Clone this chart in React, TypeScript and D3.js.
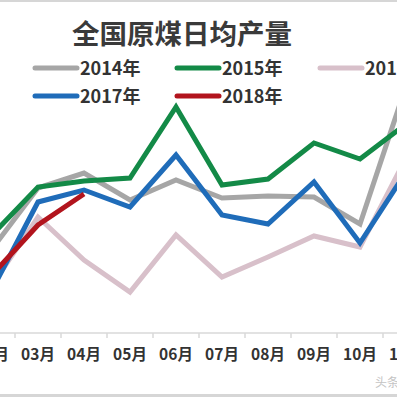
import * as d3 from "d3";

const months = ["01月", "02月", "03月", "04月", "05月", "06月", "07月", "08月", "09月", "10月", "11月", "12月"];

// 日均产量（万吨），从图上估读；02月起
const dataMonths = ["02月", "03月", "04月", "05月", "06月", "07月", "08月", "09月", "10月", "11月"];
const y2014 = [866, 988, 1018, 964, 1004, 968, 972, 970, 916, 1192];
const y2015 = [894, 990, 1002, 1008, 1150, 994, 1006, 1078, 1046, 1116];
const y2016 = [794, 930, 844, 780, 894, 810, 850, 892, 870, 1048];
const y2017 = [784, 960, 984, 950, 1054, 934, 916, 1000, 878, 1020];
const y2018 = [814, 914, 976];

const seriesNames = ["2014年", "2015年", "2016年", "2017年", "2018年"];
const seriesColors = ["#a6a6a6", "#138a47", "#d8c0ca", "#1f6cb9", "#b2141d"];
const seriesValues = [y2014, y2015, y2016, y2017, y2018];

const W = 397;
const H = 397;

const App = () => {
    const x = d3.scaleBand<string>().domain(months).range([-77, -77 + 46 * 12]);
    const y = d3.scaleLinear().domain([700, 1200]).range([332, 82]);

    const line = d3
        .line<number>()
        .x((_, i) => (x(dataMonths[i]) as number) + x.bandwidth() / 2)
        .y((d) => y(d));

    const ticks = d3.range(months.length + 1).map((i) => -77 + i * x.step());

    const legendPos = [
        [35, 68],
        [177, 68],
        [320, 68],
        [35, 96],
        [177, 96],
    ];

    return (
        <svg
            width={W}
            height={H}
            style={{ position: "absolute", left: 0, top: 0, background: "#fff" }}
            fontFamily="'Noto Sans CJK SC', 'Noto Sans', sans-serif"
        >
            <rect x={0} y={0} width={W} height={2} fill="#d6d6d6" />
            <rect x={0} y={H - 3} width={W} height={3} fill="#d6d6d6" />

            <text x={182} y={44} textAnchor="middle" fontSize={27.5} fontWeight={600} fill="#3a3a3a">
                全国原煤日均产量
            </text>

            {seriesNames.map((name, i) => (
                <g key={name} transform={`translate(${legendPos[i][0]},${legendPos[i][1]})`}>
                    <line x1={0} x2={42} y1={0} y2={0} stroke={seriesColors[i]} strokeWidth={5} strokeLinecap="round" />
                    <text x={45} y={7} fontSize={18} fontWeight={700} fill="#333">
                        {name}
                    </text>
                </g>
            ))}

            <line x1={0} x2={W} y1={333} y2={333} stroke="#d9d9d9" strokeWidth={1.5} />
            {ticks.map((t) => (
                <line key={t} x1={t} x2={t} y1={333} y2={338} stroke="#d9d9d9" strokeWidth={1.5} />
            ))}
            {months.map((m) => (
                <text
                    key={m}
                    x={(x(m) as number) + x.bandwidth() / 2}
                    y={360}
                    textAnchor="middle"
                    fontSize={15.5}
                    fontWeight={700}
                    fill="#333"
                >
                    {m}
                </text>
            ))}

            {seriesValues.map((vals, i) => (
                <path
                    key={seriesNames[i]}
                    d={line(vals) ?? ""}
                    fill="none"
                    stroke={seriesColors[i]}
                    strokeWidth={5}
                    strokeLinejoin="miter"
                />
            ))}

            <text x={375} y={387} fontSize={12} fill="#c4c4c4">
                头条号
            </text>
        </svg>
    );
};

export default App;
